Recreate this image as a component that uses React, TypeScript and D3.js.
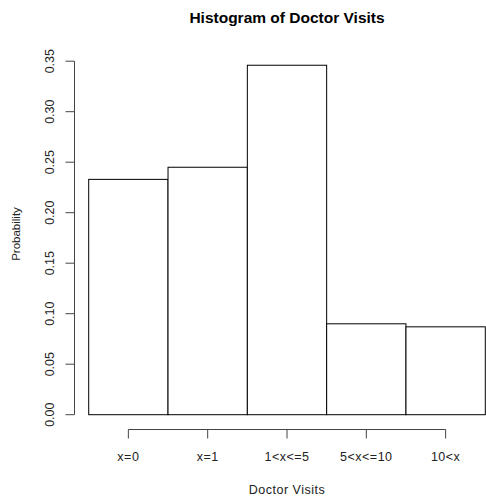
import React from "react";
import * as d3 from "d3";

const categories = ["x=0", "x=1", "1<x<=5", "5<x<=10", "10<x"];
const probabilities = [0.233, 0.245, 0.346, 0.09, 0.087];
const yTicks = [0, 0.05, 0.1, 0.15, 0.2, 0.25, 0.3, 0.35];

const W = 486;
const H = 499;
const font = "'Liberation Sans', Arial, Helvetica, sans-serif";

const App: React.FC = () => {
  const x = d3.scaleLinear().domain([0, categories.length]).range([88.7, 485.3]);
  const y = d3.scaleLinear().domain([0, 0.35]).range([414.7, 61.2]);
  const axisColor = "#444";
  const xAxisY = 429.5;
  const yAxisX = 74.5;
  // R centres titles on the plot region
  const plotCenter = 287;

  return (
    <svg
      width={W}
      height={H}
      style={{ position: "absolute", left: 0, top: 0, background: "#fff" }}
      fontFamily={font}
    >
      <text x={plotCenter} y={23} textAnchor="middle" fontSize={15.5} fontWeight="bold" fill="#000">
        Histogram of Doctor Visits
      </text>

      {/* bars */}
      {probabilities.map((p, i) => (
        <rect
          key={i}
          x={x(i)}
          y={y(p)}
          width={x(i + 1) - x(i)}
          height={y(0) - y(p)}
          fill="#fff"
          stroke="#000"
          strokeWidth={1}
        />
      ))}

      {/* y axis */}
      <line x1={yAxisX} x2={yAxisX} y1={y(0)} y2={y(0.35)} stroke={axisColor} />
      {yTicks.map((t) => (
        <g key={t}>
          <line x1={yAxisX - 9} x2={yAxisX} y1={y(t)} y2={y(t)} stroke={axisColor} />
          <text
            transform={`translate(53.5,${y(t)}) rotate(-90)`}
            textAnchor="middle"
            fontSize={12.5}
            fill="#222"
          >
            {d3.format(".2f")(t)}
          </text>
        </g>
      ))}
      <text
        transform={`translate(20,234) rotate(-90)`}
        textAnchor="middle"
        fontSize={11.5}
        fill="#222"
      >
        Probability
      </text>

      {/* x axis */}
      <line x1={x(0.5)} x2={x(categories.length - 0.5)} y1={xAxisY} y2={xAxisY} stroke={axisColor} />
      {categories.map((c, i) => (
        <g key={c}>
          <line x1={x(i + 0.5)} x2={x(i + 0.5)} y1={xAxisY} y2={xAxisY + 9} stroke={axisColor} />
          <text
            x={x(i + 0.5)}
            y={461}
            textAnchor="middle"
            fontSize={12.5}
            letterSpacing={0.5}
            fill="#222"
          >
            {c}
          </text>
        </g>
      ))}
      <text x={plotCenter} y={494} textAnchor="middle" fontSize={12.5} letterSpacing={0.5} fill="#222">
        Doctor Visits
      </text>
    </svg>
  );
};

export default App;
